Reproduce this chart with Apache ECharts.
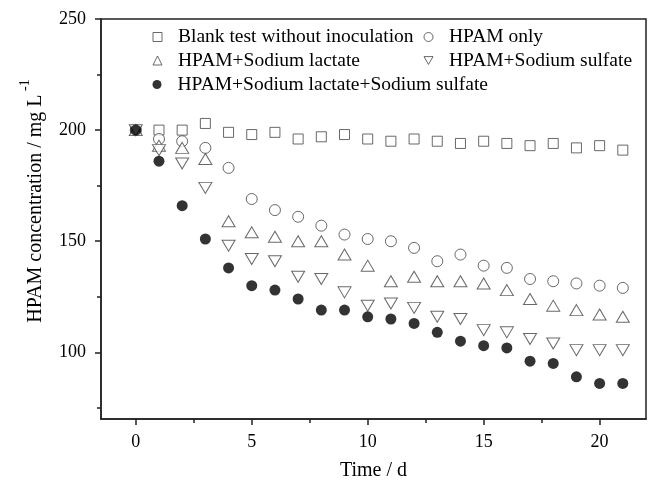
<!DOCTYPE html>
<html><head><meta charset="utf-8">
<script src="https://cdn.jsdelivr.net/npm/echarts@6/dist/echarts.min.js"></script>
<style>html,body{margin:0;padding:0;background:#fff}#c{width:651px;height:486px}</style>
</head><body><div id="c"></div>
<script>
const days = [0,1,2,3,4,5,6,7,8,9,10,11,12,13,14,15,16,17,18,19,20,21];
const blank    = [200,200,200,203,199,198,199,196,197,198,196,195,196,195,194,195,194,193,194,192,193,191];
const hpamOnly = [200,196,195,192,183,169,164,161,157,153,151,150,147,141,144,139,138,133,132,131,130,129];
const lactate  = [200,193,192,187,159,154,152,150,150,144,139,132,134,132,132,131,128,124,121,119,117,116];
const sulfate  = [200,191,185,174,148,142,141,134,133,127,121,122,120,116,115,110,109,106,104,101,101,101];
const both     = [200,186,166,151,138,130,128,124,119,119,116,115,113,109,105,103,102,96,95,89,86,86];
const seriesNames = ['Blank test without inoculation','HPAM only','HPAM+Sodium lactate','HPAM+Sodium sulfate','HPAM+Sodium lactate+Sodium sulfate'];
const xTicks = [0,5,10,15,20];
const xMinorTicks = [2.5,7.5,12.5,17.5];
const yTicks = [100,150,200,250];
const yMinorTicks = [75,125,175,225];

const FONT = 'Liberation Serif';
const pairs = arr => days.map((d,i)=>[d,arr[i]]);
const hollow = {color:'#fff', borderColor:'#444', borderWidth:1};
const DOWN_TRI = 'path://M0,0 L10,0 L5,8.66 Z';

const chart = echarts.init(document.getElementById('c'));
const legendPos = [
  {left:147.5, top:22, icon:null, filled:false},
  {left:418.5, top:22, icon:null, filled:false},
  {left:147.5, top:45.5, icon:null, filled:false},
  {left:418.5, top:45.5, icon:DOWN_TRI, filled:false},
  {left:147.5, top:69.5, icon:null, filled:true}
];
const option = {
  animation:false,
  textStyle:{fontFamily:FONT, color:'#000'},
  grid:{left:101, top:19, right:5, bottom:62, show:true, borderColor:'#222', borderWidth:1.5, containLabel:false},
  legend: seriesNames.map((n,i)=>{
    const l = {
      data:[n], left:legendPos[i].left, top:legendPos[i].top, itemWidth:9, itemHeight:9, itemGap:6,
      itemStyle: legendPos[i].filled ? {color:'#000', borderWidth:0} : {color:'#fff', borderColor:'#444', borderWidth:1},
      textStyle:{fontFamily:FONT, fontSize:19.5, color:'#000', padding:[0,0,0,11]}, selectedMode:false
    };
    if (legendPos[i].icon) l.icon = legendPos[i].icon;
    return l;
  }),
  xAxis:[
    {type:'value', min:-1.5, max:22, position:'bottom',
     axisLine:{show:true, onZero:false, lineStyle:{color:'#222', width:1.5}},
     axisTick:{show:true, customValues:xTicks, length:6, lineStyle:{color:'#222', width:1.5}},
     axisLabel:{customValues:xTicks, fontSize:18, color:'#000', margin:14, fontFamily:FONT},
     splitLine:{show:false},
     name:'Time / d', nameLocation:'middle', nameGap:42,
     nameTextStyle:{fontSize:20, color:'#000', fontFamily:FONT}},
    {type:'value', min:-1.5, max:22, position:'bottom',
     axisLine:{show:false, onZero:false}, axisTick:{show:true, customValues:xMinorTicks, length:4, lineStyle:{color:'#222', width:1.5}},
     axisLabel:{show:false}, splitLine:{show:false}}
  ],
  yAxis:[
    {type:'value', min:70, max:250, position:'left',
     axisLine:{show:true, onZero:false, lineStyle:{color:'#222', width:1.5}},
     axisTick:{show:true, customValues:yTicks, length:6, lineStyle:{color:'#222', width:1.5}},
     axisLabel:{customValues:yTicks, fontSize:18, color:'#000', margin:15, fontFamily:FONT},
     splitLine:{show:false},
     name:'{a|HPAM concentration / mg L}{b| -1}', nameLocation:'middle', nameGap:55, nameRotate:90,
     nameTextStyle:{fontFamily:FONT, padding:[0,0,0,36],
       rich:{a:{fontSize:20, fontFamily:FONT, color:'#000', lineHeight:28, verticalAlign:'bottom'},
             b:{fontSize:14, fontFamily:FONT, color:'#000', lineHeight:28, verticalAlign:'top'}}}},
    {type:'value', min:70, max:250, position:'left',
     axisLine:{show:false, onZero:false}, axisTick:{show:true, customValues:yMinorTicks, length:4, lineStyle:{color:'#222', width:1.5}},
     axisLabel:{show:false}, splitLine:{show:false}}
  ],
  series:[
    {name:seriesNames[0], type:'scatter', data:pairs(blank), symbol:'rect', symbolSize:10, itemStyle:hollow},
    {name:seriesNames[1], type:'scatter', data:pairs(hpamOnly), symbol:'circle', symbolSize:11, itemStyle:hollow},
    {name:seriesNames[2], type:'scatter', data:pairs(lactate), symbol:'triangle', symbolSize:[13,11], itemStyle:hollow},
    {name:seriesNames[3], type:'scatter', data:pairs(sulfate), symbol:'triangle', symbolRotate:180, symbolSize:[13,11], itemStyle:hollow},
    {name:seriesNames[4], type:'scatter', data:pairs(both), symbol:'circle', symbolSize:11, itemStyle:{color:'#000'}}
  ]
};
chart.setOption(option);
</script></body></html>
